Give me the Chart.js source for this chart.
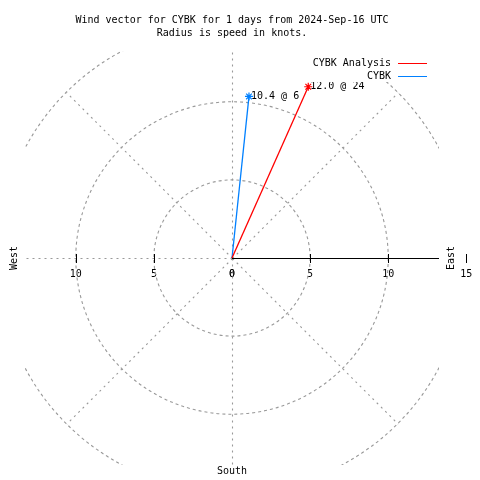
<!DOCTYPE html>
<html>
<head>
<meta charset="utf-8">
<script src="https://cdn.jsdelivr.net/npm/chart.js@4"></script>
<style>
  html, body { margin: 0; padding: 0; background: #fff; }
  #wrap { width: 480px; height: 480px; }
</style>
</head>
<body>
<div id="wrap"><canvas id="windChart" width="480" height="480"></canvas></div>
<script>
// ===== Data =====
const seriesNames = ['CYBK Analysis', 'CYBK'];
const speeds = [12.0, 10.4];        // knots
const directions = [24, 6];         // degrees, clockwise from north
const ringValues = [5, 10, 15];
const spokeAngles = [0, 45, 90, 135, 180, 225, 270, 315];
const eastTicks = [0, 5, 10, 15];
const westTicks = [0, 5, 10];
const titleLines = ['Wind vector for CYBK for 1 days from 2024-Sep-16 UTC', 'Radius is speed in knots.'];

const R = 13.25;
const FONT = '10px "DejaVu Sans Mono", monospace';
const seriesColors = ['#ff0000', '#0080ff'];

function toXY(speed, dir) {
    const a = dir * Math.PI / 180;
    return { x: speed * Math.sin(a), y: speed * Math.cos(a) };
}

const datasets = seriesNames.map((name, i) => ({
    label: name,
    data: [{ x: 0, y: 0 }, toXY(speeds[i], directions[i])],
    showLine: true,
    borderColor: seriesColors[i],
    backgroundColor: seriesColors[i],
    borderWidth: 1.3,
    pointStyle: 'star',
    pointRadius: [0, 4],
    pointBorderWidth: 1.2
}));

// ===== Grid, axis and text =====
const polarPlugin = {
    id: 'polar',
    beforeDatasetsDraw(chart) {
        const { ctx, chartArea: a, scales: { x, y } } = chart;
        const cx = x.getPixelForValue(0), cy = y.getPixelForValue(0);
        const k = x.getPixelForValue(1) - cx;

        // tick labels
        ctx.save();
        ctx.font = FONT;
        ctx.fillStyle = '#000';
        ctx.textAlign = 'center';
        ctx.textBaseline = 'middle';
        eastTicks.forEach(v => ctx.fillText(String(v), x.getPixelForValue(v), cy + 16));
        westTicks.forEach(v => ctx.fillText(String(v), x.getPixelForValue(-v), cy + 16));
        ctx.restore();

        // dashed rings and spokes, clipped to plot area
        ctx.save();
        ctx.beginPath();
        ctx.rect(a.left, a.top, a.right - a.left, a.bottom - a.top);
        ctx.clip();
        ctx.strokeStyle = '#999';
        ctx.lineWidth = 1.1;
        ctx.setLineDash([3, 3]);
        ringValues.forEach(r => {
            ctx.beginPath();
            ctx.arc(cx, cy, r * k, 0, Math.PI * 2);
            ctx.stroke();
        });
        ctx.setLineDash([2, 4]);
        const rMax = ringValues[ringValues.length - 1];
        spokeAngles.forEach(d => {
            if (d === 90) return;
            const p = toXY(rMax, d);
            ctx.beginPath();
            ctx.moveTo(cx + 0.5, cy + 0.5);
            ctx.lineTo(x.getPixelForValue(p.x) + 0.5, y.getPixelForValue(p.y) + 0.5);
            ctx.stroke();
        });
        ctx.setLineDash([]);

        // east axis
        ctx.strokeStyle = '#000';
        ctx.lineWidth = 1;
        ctx.beginPath();
        ctx.moveTo(cx, cy + 0.5);
        ctx.lineTo(a.right, cy + 0.5);
        ctx.stroke();
        ctx.restore();

        ctx.save();
        ctx.strokeStyle = '#000';
        ctx.lineWidth = 1;
        eastTicks.concat(westTicks.map(v => -v)).forEach(v => {
            if (v === 0) return;
            const px = Math.round(x.getPixelForValue(v)) + 0.5;
            ctx.beginPath();
            ctx.moveTo(px, cy - 4);
            ctx.lineTo(px, cy + 5);
            ctx.stroke();
        });
        ctx.restore();
    },
    afterDatasetsDraw(chart) {
        const { ctx, chartArea: a, scales: { x, y } } = chart;
        const cx = x.getPixelForValue(0), cy = y.getPixelForValue(0);
        ctx.save();
        ctx.font = FONT;
        ctx.fillStyle = '#000';
        ctx.textBaseline = 'middle';

        // vector labels
        chart.data.datasets.forEach((ds, i) => {
            const pt = chart.getDatasetMeta(i).data[1];
            ctx.textAlign = 'left';
            ctx.fillText(speeds[i].toFixed(1) + ' @ ' + directions[i], pt.x + 2, pt.y);
        });

        // legend
        ctx.fillStyle = '#fff';
        ctx.fillRect(300, a.top, a.right - 300, 31);
        seriesNames.forEach((name, i) => {
            const ly = 63 + i * 13;
            ctx.fillStyle = '#000';
            ctx.textAlign = 'right';
            ctx.fillText(name, 391, ly);
            ctx.strokeStyle = seriesColors[i];
            ctx.lineWidth = 1;
            ctx.beginPath();
            ctx.moveTo(398, ly + 0.5);
            ctx.lineTo(427, ly + 0.5);
            ctx.stroke();
        });

        // title
        ctx.fillStyle = '#000';
        ctx.textAlign = 'center';
        titleLines.forEach((t, i) => ctx.fillText(t, 232, 20 + i * 13));

        // compass labels
        ctx.fillText('South', cx, 471);
        [['West', 14], ['East', 451]].forEach(([t, px]) => {
            ctx.save();
            ctx.translate(px, cy);
            ctx.rotate(-Math.PI / 2);
            ctx.fillText(t, 0, 0);
            ctx.restore();
        });
        ctx.restore();
    }
};

// ===== Chart =====
new Chart(document.getElementById('windChart').getContext('2d'), {
    type: 'scatter',
    data: { datasets },
    options: {
        responsive: false,
        animation: false,
        layout: { padding: { left: 25, right: 41, top: 51, bottom: 15 } },
        scales: {
            x: { type: 'linear', min: -R, max: R, display: false },
            y: { type: 'linear', min: -R, max: R, display: false }
        },
        plugins: { legend: { display: false }, tooltip: { enabled: false } }
    },
    plugins: [polarPlugin]
});
</script>
</body>
</html>
